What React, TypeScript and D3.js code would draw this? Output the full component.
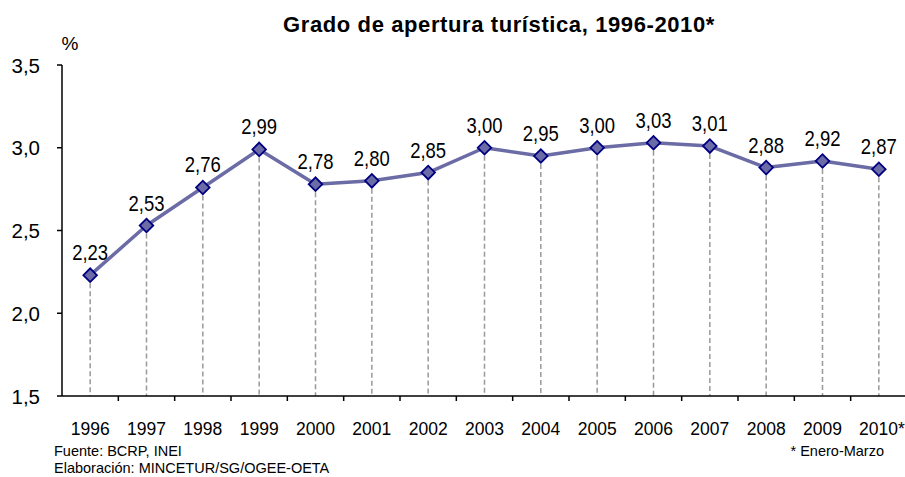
import React from "react";
import * as d3 from "d3";

const years = ["1996","1997","1998","1999","2000","2001","2002","2003","2004","2005","2006","2007","2008","2009","2010*"];
const values = [2.23,2.53,2.76,2.99,2.78,2.80,2.85,3.00,2.95,3.00,3.03,3.01,2.88,2.92,2.87];
const yTicks = [1.5,2.0,2.5,3.0,3.5];

const W = 905, H = 477;
const left = 62, right = 907, top = 65, bottom = 396;

export default function App() {
  const x = d3.scaleBand<string>().domain(years).range([left, right]).padding(0);
  const y = d3.scaleLinear().domain([1.5, 3.5]).range([bottom, top]);
  const fmt = (v: number) => d3.format(".2f")(v).replace(".", ",");
  const fmtT = (v: number) => d3.format(".1f")(v).replace(".", ",");
  const cx = (yr: string) => (x(yr) as number) + x.bandwidth() / 2;
  const line = d3.line<number>().x((_, i) => cx(years[i])).y((d) => y(d));
  const font = "'Liberation Sans', Arial, sans-serif";
  return (
    <svg width={W} height={H} style={{ position: "absolute", left: 0, top: 0, background: "#fff" }} fontFamily={font}>
      <rect width={W} height={H} fill="#fff" />
      <text x={499} y={32} textAnchor="middle" fontSize={22} fontWeight="bold" letterSpacing={0.6}>Grado de apertura turística, 1996-2010*</text>
      <text x={70} y={50} textAnchor="middle" fontSize={19}>%</text>
      {yTicks.map((t) => (
        <g key={t}>
          <line x1={left - 5} x2={left} y1={y(t)} y2={y(t)} stroke="#000" strokeWidth={1.5} />
          <text x={40} y={y(t) + 7.5} textAnchor="end" fontSize={20.5}>{fmtT(t)}</text>
        </g>
      ))}
      {years.map((yr, i) => (
        <line key={"d" + yr} x1={cx(yr)} x2={cx(yr)} y1={y(values[i])} y2={bottom} stroke="#999" strokeWidth={1.5} strokeDasharray="5,3" />
      ))}
      <line x1={left} x2={left} y1={top} y2={bottom} stroke="#000" strokeWidth={1.5} />
      <line x1={left} x2={right} y1={bottom} y2={bottom} stroke="#000" strokeWidth={1.5} />
      {years.map((yr) => (
        <line key={"t" + yr} x1={(x(yr) as number) + x.bandwidth()} x2={(x(yr) as number) + x.bandwidth()} y1={bottom} y2={bottom + 5} stroke="#000" strokeWidth={1.5} />
      ))}
      {years.map((yr) => (
        <text key={"l" + yr} x={cx(yr) + (yr.endsWith("*") ? 3 : 0)} y={435} textAnchor="middle" fontSize={17.5}>{yr}</text>
      ))}
      <path d={line(values) || ""} fill="none" stroke="#6b6ba6" strokeWidth={3.5} strokeLinejoin="round" />
      {years.map((yr, i) => (
        <g key={"m" + yr} transform={`translate(${cx(yr)},${y(values[i])}) rotate(45)`}>
          <rect x={-4.8} y={-4.8} width={9.6} height={9.6} fill="#6b6ba6" stroke="#000080" strokeWidth={1.8} />
        </g>
      ))}
      {years.map((yr, i) => (
        <text key={"v" + yr} textAnchor="middle" fontSize={21.5}
          transform={`translate(${cx(yr)},${y(values[i]) - 15}) scale(0.86,1)`}>{fmt(values[i])}</text>
      ))}
      <text x={54} y={456} fontSize={14.5}>Fuente: BCRP, INEI</text>
      <text x={54} y={473} fontSize={14.5}>Elaboración:  MINCETUR/SG/OGEE-OETA</text>
      <text x={884} y={456} textAnchor="end" fontSize={14.5}>* Enero-Marzo</text>
    </svg>
  );
}
